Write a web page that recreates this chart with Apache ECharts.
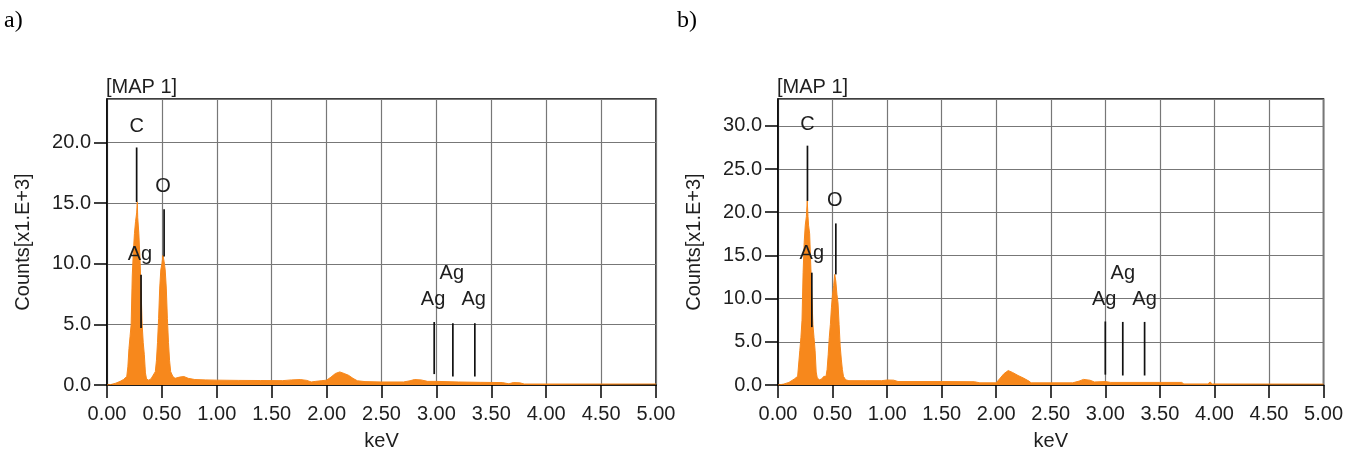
<!DOCTYPE html>
<html>
<head>
<meta charset="utf-8">
<script src="https://cdn.jsdelivr.net/npm/echarts@6/dist/echarts.min.js"></script>
<style>
html,body{margin:0;padding:0;background:#fff;}
#chart{width:1346px;height:456px;}
</style>
</head>
<body>
<div id="chart"></div>
<script>
// ---------- DATA ----------
const xTickLabels = ['0.00','0.50','1.00','1.50','2.00','2.50','3.00','3.50','4.00','4.50','5.00'];

// Panel a) spectrum (keV, counts x1e3)
const energyA = [0.00,0.04,0.08,0.12,0.15,0.18,0.19,0.20,0.21,0.22,0.23,0.24,0.25,0.26,0.27,0.276,0.28,0.29,0.30,0.31,0.32,0.33,0.34,0.35,0.36,0.38,0.40,0.42,0.44,0.45,0.46,0.47,0.48,0.49,0.50,0.51,0.52,0.53,0.54,0.55,0.56,0.57,0.58,0.60,0.62,0.66,0.70,0.74,0.80,0.90,1.00,1.20,1.40,1.60,1.68,1.76,1.82,1.86,1.90,1.95,2.00,2.04,2.08,2.12,2.16,2.20,2.24,2.28,2.35,2.50,2.70,2.76,2.80,2.86,2.92,3.00,3.20,3.40,3.60,3.66,3.70,3.76,3.80,4.00,5.00];
const countsA = [0.00,0.05,0.15,0.30,0.45,0.70,1.50,3.00,4.00,5.00,9.00,11.0,12.5,13.5,14.2,15.1,13.8,12.5,10.5,8.00,5.00,3.50,2.50,1.00,0.50,0.40,0.50,0.80,1.10,2.00,3.50,5.50,8.00,9.50,10.0,10.7,10.2,9.50,8.00,5.50,3.50,2.00,1.10,0.70,0.55,0.65,0.70,0.55,0.45,0.42,0.40,0.38,0.37,0.36,0.42,0.45,0.38,0.25,0.30,0.35,0.40,0.65,0.95,1.08,0.95,0.80,0.55,0.35,0.28,0.25,0.25,0.35,0.45,0.42,0.30,0.30,0.25,0.22,0.20,0.10,0.20,0.18,0.08,0.08,0.08];

// Panel b) spectrum
const energyB = [0.00,0.05,0.10,0.15,0.18,0.20,0.21,0.22,0.23,0.24,0.25,0.26,0.268,0.275,0.28,0.29,0.30,0.31,0.32,0.33,0.34,0.35,0.36,0.38,0.40,0.42,0.44,0.45,0.46,0.47,0.48,0.49,0.50,0.51,0.52,0.53,0.54,0.55,0.56,0.57,0.58,0.59,0.60,0.62,0.65,0.80,0.95,1.00,1.06,1.10,1.50,1.80,1.85,2.00,2.03,2.07,2.11,2.15,2.20,2.25,2.30,2.32,2.70,2.76,2.80,2.86,2.90,3.00,3.05,3.50,3.70,3.72,3.94,3.96,3.98,5.00];
const countsB = [0.00,0.10,0.30,0.70,1.00,4.00,5.50,7.50,13.0,16.5,18.5,19.5,21.3,19.5,18.5,17.5,14.0,10.5,7.00,5.50,4.00,1.50,0.80,0.60,0.70,1.00,1.00,1.80,3.50,5.50,7.00,9.00,10.5,11.5,12.8,12.0,10.5,9.50,7.00,4.50,3.00,1.80,1.00,0.60,0.50,0.50,0.50,0.58,0.56,0.40,0.40,0.38,0.25,0.25,0.70,1.30,1.67,1.45,1.10,0.80,0.45,0.25,0.25,0.45,0.65,0.55,0.35,0.40,0.30,0.30,0.30,0.12,0.12,0.35,0.12,0.10];

// Peak marker lines: [keV, bottom, top]
const markersA = [[0.27,15.1,19.6],[0.52,10.6,14.5],[0.31,4.7,9.1],[2.98,0.9,5.2],[3.15,0.7,5.1],[3.35,0.7,5.1]];
const markersB = [[0.27,21.3,27.7],[0.53,12.8,18.7],[0.31,6.7,13.0],[3.00,1.2,7.35],[3.16,1.1,7.3],[3.36,1.1,7.3]];

// Peak labels: [keV, counts, text]
const labelsA = [[0.27,21.3,'C'],[0.51,16.4,'O'],[0.30,10.8,'Ag'],[2.97,7.05,'Ag'],[3.14,9.2,'Ag'],[3.34,7.05,'Ag']];
const labelsB = [[0.27,30.2,'C'],[0.52,21.3,'O'],[0.31,15.2,'Ag'],[2.99,9.95,'Ag'],[3.16,12.9,'Ag'],[3.36,9.95,'Ag']];

const yMaxA = 23.6, yMaxB = 33.1;

// ---------- CHART ----------
const ORANGE = '#F7881C';
const FONT = 'Liberation Sans, Arial, sans-serif';
const TXT = '#1e1e1e';
const GRIDC = '#777777';

function zip(xs, ys){ return xs.map((x,i)=>[x, ys[i]]); }

function xAxisDef(gi){
  return {
    type:'value', gridIndex:gi, min:0, max:5, interval:0.5,
    name:'keV', nameLocation:'middle', nameGap:46,
    nameTextStyle:{fontFamily:FONT, fontSize:20, color:TXT},
    axisLine:{show:true, onZero:false, lineStyle:{color:'#000', width:1.5}},
    axisTick:{show:true, length:13, lineStyle:{color:'#000', width:1.5}},
    axisLabel:{fontFamily:FONT, fontSize:20, color:TXT, margin:19,
      formatter:v=>xTickLabels[Math.round(v/0.5)] || ''},
    splitLine:{show:true, lineStyle:{color:GRIDC, width:1.2}}
  };
}
function yAxisDef(gi, max){
  return {
    type:'value', gridIndex:gi, min:0, max:max, interval:5,
    name:'Counts[x1.E+3]', nameLocation:'middle', nameGap:74, nameRotate:90,
    nameTextStyle:{fontFamily:FONT, fontSize:20, color:TXT},
    axisLine:{show:true, lineStyle:{color:'#000', width:1.5}},
    axisTick:{show:true, length:13, lineStyle:{color:'#000', width:1.5}},
    axisLabel:{fontFamily:FONT, fontSize:20, color:TXT, margin:16, showMaxLabel:false,
      formatter:v=> (Math.abs(v/5 - Math.round(v/5))<1e-6) ? v.toFixed(1) : ''},
    splitLine:{show:true, lineStyle:{color:GRIDC, width:1.2}}
  };
}
function spectrum(gi, xs, ys){
  return {type:'line', xAxisIndex:gi, yAxisIndex:gi, data:zip(xs,ys),
    showSymbol:false, symbol:'none', lineStyle:{color:ORANGE, width:1},
    areaStyle:{color:ORANGE, opacity:1}, z:2, animation:false};
}
function markerLines(gi, data){
  return {type:'custom', xAxisIndex:gi, yAxisIndex:gi, data:data, z:5, clip:false,
    encode:{x:0, y:[1,2]}, animation:false,
    renderItem:(params, api)=>{
      const p1 = api.coord([api.value(0), api.value(1)]);
      const p2 = api.coord([api.value(0), api.value(2)]);
      return {type:'line', shape:{x1:p1[0], y1:p1[1], x2:p2[0], y2:p2[1]},
        style:{stroke:'#111', lineWidth:1.7}};
    }};
}
function markerLabels(gi, data){
  return {type:'custom', xAxisIndex:gi, yAxisIndex:gi, data:data, z:6, clip:false,
    encode:{x:0, y:1}, animation:false,
    renderItem:(params, api)=>{
      const p = api.coord([api.value(0), api.value(1)]);
      return {type:'text', x:p[0], y:p[1],
        style:{text:data[params.dataIndex][2], fill:TXT, font:'20px ' + FONT,
          align:'center', verticalAlign:'middle'}};
    }};
}

const chart = echarts.init(document.getElementById('chart'), null, {renderer:'canvas'});
chart.setOption({
  animation:false,
  backgroundColor:'#fff',
  title:[
    {text:'a)', left:4, top:9, padding:0, textStyle:{fontFamily:'Liberation Serif, serif', fontSize:24, fontWeight:'normal', color:'#000'}},
    {text:'b)', left:677, top:9, padding:0, textStyle:{fontFamily:'Liberation Serif, serif', fontSize:24, fontWeight:'normal', color:'#000'}},
    {text:'[MAP 1]', left:106, top:77, padding:0, textStyle:{fontFamily:FONT, fontSize:20, fontWeight:'normal', color:TXT}},
    {text:'[MAP 1]', left:777, top:77, padding:0, textStyle:{fontFamily:FONT, fontSize:20, fontWeight:'normal', color:TXT}}
  ],
  grid:[
    {left:107, top:99, width:549, height:291, show:true, borderColor:'#000', borderWidth:1.5, backgroundColor:'transparent'},
    {left:778, top:99, width:547, height:292, show:true, borderColor:'#000', borderWidth:1.5, backgroundColor:'transparent'}
  ],
  xAxis:[xAxisDef(0), xAxisDef(1)],
  yAxis:[yAxisDef(0, yMaxA), yAxisDef(1, yMaxB)],
  series:[
    spectrum(0, energyA, countsA),
    spectrum(1, energyB, countsB),
    markerLines(0, markersA),
    markerLines(1, markersB),
    markerLabels(0, labelsA),
    markerLabels(1, labelsB)
  ]
});
</script>
</body>
</html>
